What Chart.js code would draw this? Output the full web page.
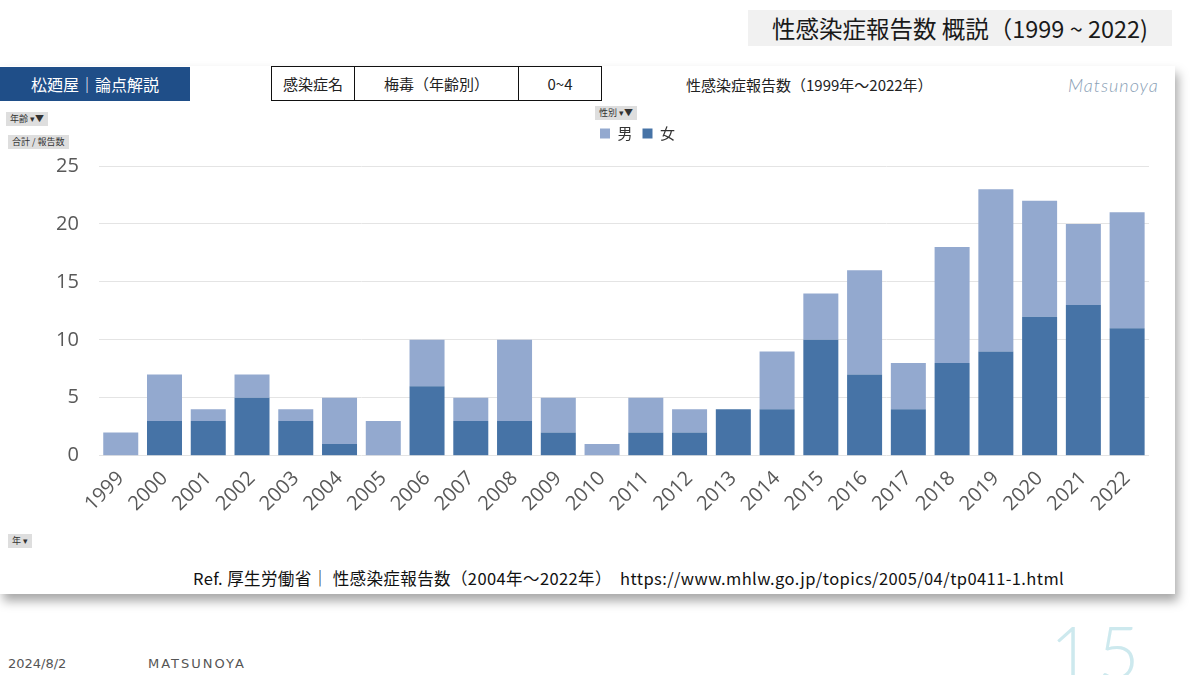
<!DOCTYPE html>
<html>
<head>
<meta charset="utf-8">
<script src="https://cdn.jsdelivr.net/npm/chart.js@4.4.0/dist/chart.umd.min.js"></script>
<style>
  html, body { margin: 0; padding: 0; }
  body {
    width: 1200px; height: 675px; overflow: hidden; background: #fff; position: relative;
    font-family: "Noto Sans CJK JP", "Noto Sans", sans-serif; color: #222;
  }
  .abs { position: absolute; }
  #topTitle {
    left: 748px; top: 10px; width: 424px; height: 36px; background: #f1f1f1;
    font-size: 23.5px; line-height: 36px; text-align: center; color: #1a1a1a;
  }
  #card {
    left: 0; top: 66px; width: 1175px; height: 528px; background: #fff;
    box-shadow: 3px 7px 10px rgba(0,0,0,0.35);
  }
  #brand {
    left: 0; top: 67px; width: 190px; height: 34px; background: #1f4e88; color: #fff;
    font-size: 16px; line-height: 34px; text-align: center;
  }
  #infoTable {
    left: 271px; top: 66px; border-collapse: collapse; font-size: 15px;
  }
  #infoTable td {
    border: 1.5px solid #111; height: 33px; padding: 0; text-align: center;
  }
  #chartTitle { left: 686px; top: 74px; font-size: 15px; color: #222; }
  #sign {
    left: 1068px; top: 74px; font-family: "Lato", sans-serif; font-style: italic;
    font-size: 18px; color: #8aa0b6; letter-spacing: 1px; font-weight: 300;
  }
  .btn {
    background: #dedede; color: #333; font-size: 9px; padding: 1px 4px; line-height: 12px;
  }
  #ref { left: 193px; top: 566px; font-size: 16.5px; color: #111; letter-spacing: 0.4px; white-space: nowrap; }
  #foot1 { left: 8px; top: 656px; font-size: 13px; color: #555; font-family: "DejaVu Sans", sans-serif; }
  #foot2 { left: 148px; top: 656px; font-size: 13px; color: #555; letter-spacing: 2px; font-family: "DejaVu Sans", sans-serif; }
  #page { left: 1050px; top: 608px; font-size: 72px; color: #cde9ee; font-family: "Lato", sans-serif; font-weight: 300; letter-spacing: 6px; }
  #chartBox { left: 36px; top: 100px; width: 1121px; height: 419px; }
</style>
</head>
<body>
<div id="topTitle" class="abs">性感染症報告数 概説（1999 ~ 2022)</div>
<div id="card" class="abs"></div>
<div id="brand" class="abs">松廼屋｜論点解説</div>
<table id="infoTable" class="abs">
  <tr><td style="width:82px">感染症名</td><td style="width:163px">梅毒（年齢別）</td><td style="width:82px">0~4</td></tr>
</table>
<div id="chartTitle" class="abs">性感染症報告数（1999年～2022年）</div>
<div id="sign" class="abs">Matsunoya</div>
<div class="abs btn" style="left:6px;top:112px">年齢 ▾▼</div>
<div class="abs btn" style="left:8px;top:135px">合計 / 報告数</div>
<div class="abs btn" style="left:595px;top:106px">性別 ▾▼</div>
<div class="abs btn" style="left:8px;top:534px">年 ▾</div>
<div id="chartBox" class="abs"><canvas id="syphilisChart"></canvas></div>
<div id="ref" class="abs">Ref. 厚生労働省｜ 性感染症報告数（2004年～2022年）&nbsp; https://www.mhlw.go.jp/topics/2005/04/tp0411-1.html</div>
<div id="foot1" class="abs">2024/8/2</div>
<div id="foot2" class="abs">MATSUNOYA</div>
<div id="page" class="abs">15</div>

<script>
// Data
const years = ["1999","2000","2001","2002","2003","2004","2005","2006","2007","2008","2009","2010",
               "2011","2012","2013","2014","2015","2016","2017","2018","2019","2020","2021","2022"];
const female = [0, 3, 3, 5, 3, 1, 0, 6, 3, 3, 2, 0, 2, 2, 4, 4, 10, 7, 4, 8, 9, 12, 13, 11];
const male   = [2, 4, 1, 2, 1, 4, 3, 4, 2, 7, 3, 1, 3, 2, 0, 5, 4, 9, 4, 10, 14, 10, 7, 10];
const yTicks = [0, 5, 10, 15, 20, 25];

// legend sits a bit right of center and has extra space below it
const legendShift = 45;
const legendTweak = {
  id: "legendTweak",
  beforeInit(chart) {
    const origFit = chart.legend.fit;
    chart.legend.fit = function () {
      origFit.call(this);
      this.height += 15;
    };
  },
  beforeDraw(chart) {
    chart.legend.left += legendShift;
    chart.legend.right += legendShift;
  },
  afterDraw(chart) {
    chart.legend.left -= legendShift;
    chart.legend.right -= legendShift;
  },
};

const ctx = document.getElementById("syphilisChart").getContext("2d");
const syphilisChart = new Chart(ctx, {
  type: "bar",
  data: {
    labels: years,
    datasets: [
      {
        label: "女",
        data: female,
        backgroundColor: "#4673a6",
        categoryPercentage: 0.8,
        barPercentage: 1.0,
      },
      {
        label: "男",
        data: male,
        backgroundColor: "#93a9cf",
        categoryPercentage: 0.8,
        barPercentage: 1.0,
      },
    ],
  },
  options: {
    responsive: true,
    maintainAspectRatio: false,
    animation: false,
    layout: { padding: { top: 16, right: 8, left: 0, bottom: 0 } },
    plugins: {
      legend: {
        display: true,
        reverse: true,
        labels: {
          boxWidth: 10,
          boxHeight: 10,
          padding: 10,
          color: "#333",
          font: { size: 15, family: "Noto Sans CJK JP" },
        },
      },
      tooltip: { enabled: false },
    },
    scales: {
      x: {
        stacked: true,
        grid: { display: false },
        border: { display: false },
        ticks: {
          color: "#595959",
          maxRotation: 45,
          minRotation: 45,
          font: { size: 20, family: "Open Sans" },
        },
      },
      y: {
        stacked: true,
        min: 0,
        max: 25,
        afterBuildTicks: (axis) => { axis.ticks = yTicks.map((v) => ({ value: v })); },
        grid: { color: "#e4e4e4", drawTicks: false },
        border: { display: false },
        ticks: {
          color: "#595959",
          padding: 20,
          font: { size: 20, family: "Open Sans" },
        },
      },
    },
  },
  plugins: [legendTweak],
});
</script>
</body>
</html>
